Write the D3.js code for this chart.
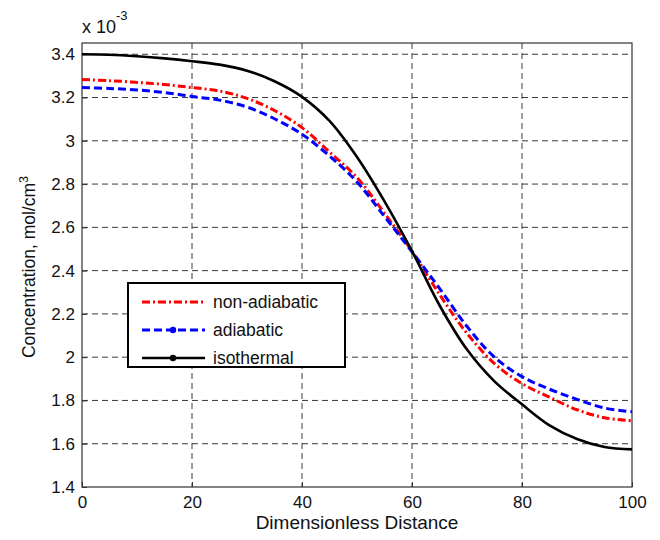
<!DOCTYPE html>
<html>
<head>
<meta charset="utf-8">
<script src="https://cdn.jsdelivr.net/npm/d3@7"></script>
<style>
  body { margin: 0; background: #fff; }
  text { font-family: "Liberation Sans", Arial, sans-serif; fill: #111; }
</style>
</head>
<body>
<div id="chart"></div>
<script>
// data (concentration in units of 1e-3 mol/cm3)
const distance = [0, 5, 10, 15, 20, 25, 30, 35, 40, 45, 50, 55, 60, 65, 70, 75, 80, 85, 90, 95, 100];
const nonAdiabatic = [3.283, 3.278, 3.270, 3.260, 3.246, 3.230, 3.196, 3.140, 3.061, 2.948, 2.830, 2.665, 2.490, 2.290, 2.110, 1.970, 1.878, 1.815, 1.757, 1.720, 1.706];
const adiabatic = [3.246, 3.242, 3.235, 3.223, 3.205, 3.188, 3.156, 3.102, 3.030, 2.930, 2.810, 2.650, 2.487, 2.318, 2.142, 2.000, 1.910, 1.852, 1.805, 1.765, 1.748];
const isothermal = [3.400, 3.398, 3.391, 3.381, 3.368, 3.352, 3.324, 3.275, 3.203, 3.092, 2.925, 2.720, 2.490, 2.240, 2.035, 1.888, 1.782, 1.685, 1.622, 1.585, 1.574];

const seriesNames = ["non-adiabatic", "adiabatic", "isothermal"];
const xTicks = [0, 20, 40, 60, 80, 100];
const yTicks = [1.4, 1.6, 1.8, 2, 2.2, 2.4, 2.6, 2.8, 3, 3.2, 3.4];

// frame
const FRAME_HEIGHT = 540;
const FRAME_WIDTH = 660;
const MARGINS = {left: 82, right: 28, top: 43, bottom: 53};

const VIS_HEIGHT = FRAME_HEIGHT - MARGINS.top - MARGINS.bottom;
const VIS_WIDTH = FRAME_WIDTH - MARGINS.left - MARGINS.right;

const FRAME = d3.select("#chart")
                .append("svg")
                  .attr("height", FRAME_HEIGHT)
                  .attr("width", FRAME_WIDTH);

const VIS = FRAME.append("g")
                 .attr("transform", "translate(" + MARGINS.left + "," + MARGINS.top + ")");

// scales
const x = d3.scaleLinear()
            .domain([0, 100])
            .range([0, VIS_WIDTH]);

const y = d3.scaleLinear()
            .domain([1.4, 3.452])
            .range([VIS_HEIGHT, 0]);

// dashed grid
VIS.append("g")
   .selectAll("line")
   .data(xTicks.filter((d) => d > 0 && d < 100))
   .enter()
   .append("line")
     .attr("x1", (d) => x(d))
     .attr("x2", (d) => x(d))
     .attr("y1", 0)
     .attr("y2", VIS_HEIGHT)
     .attr("stroke", "#3a3a3a")
     .attr("stroke-width", 1)
     .attr("stroke-dasharray", "6,4");

VIS.append("g")
   .selectAll("line")
   .data(yTicks.filter((d) => d > 1.4))
   .enter()
   .append("line")
     .attr("x1", 0)
     .attr("x2", VIS_WIDTH)
     .attr("y1", (d) => y(d))
     .attr("y2", (d) => y(d))
     .attr("stroke", "#3a3a3a")
     .attr("stroke-width", 1)
     .attr("stroke-dasharray", "6,4");

// axes
const xAxis = VIS.append("g")
   .attr("transform", "translate(0," + VIS_HEIGHT + ")")
   .call(d3.axisBottom(x).tickValues(xTicks).tickSize(-5).tickPadding(9).tickFormat(d3.format("~g")));

const yAxis = VIS.append("g")
   .call(d3.axisLeft(y).tickValues(yTicks).tickSize(-5).tickPadding(7).tickFormat(d3.format("~g")));

[xAxis, yAxis].forEach((a) => {
  a.select(".domain").remove();
  a.selectAll("line").attr("stroke", "#333");
  a.selectAll("text")
   .attr("font-size", 17)
   .attr("font-family", "Liberation Sans, Arial, sans-serif")
   .attr("fill", "#111");
});

// box
VIS.append("rect")
   .attr("x", 0)
   .attr("y", 0)
   .attr("width", VIS_WIDTH)
   .attr("height", VIS_HEIGHT)
   .attr("fill", "none")
   .attr("stroke", "#333")
   .attr("stroke-width", 1.2);

// the three curves
const series = [
  {name: seriesNames[0], values: nonAdiabatic, color: "#ff0000", dash: "8,3,2,3", width: 3, dot: false},
  {name: seriesNames[1], values: adiabatic, color: "#0000ff", dash: "8,4", width: 3, dot: true},
  {name: seriesNames[2], values: isothermal, color: "#000000", dash: null, width: 2.6, dot: true}
];

const line = d3.line()
               .x((d) => x(d[0]))
               .y((d) => y(d[1]))
               .curve(d3.curveCatmullRom.alpha(0.5));

series.forEach((s) => {
  VIS.append("path")
     .datum(distance.map((d, i) => [d, s.values[i]]))
     .attr("fill", "none")
     .attr("stroke", s.color)
     .attr("stroke-width", s.width)
     .attr("stroke-dasharray", s.dash)
     .attr("d", line);
});

// multiplier above the axis
const mult = FRAME.append("text")
   .attr("x", 82)
   .attr("y", 33)
   .attr("font-size", 18)
   .text("x 10");
mult.append("tspan")
   .attr("dy", -13)
   .attr("font-size", 13)
   .text("-3");

// axis labels
FRAME.append("text")
   .attr("x", MARGINS.left + VIS_WIDTH / 2)
   .attr("y", 529)
   .attr("text-anchor", "middle")
   .attr("font-size", 19)
   .text("Dimensionless Distance");

const yLabel = FRAME.append("text")
   .attr("transform", "translate(35," + (MARGINS.top + VIS_HEIGHT / 2 + 2) + ") rotate(-90)")
   .attr("text-anchor", "middle")
   .attr("font-size", 17.5)
   .text("Concentration, mol/cm");
yLabel.append("tspan")
   .attr("dy", -7)
   .attr("font-size", 12.5)
   .text("3");

// legend
const LEGEND = FRAME.append("g")
   .attr("transform", "translate(128,283)");

LEGEND.append("rect")
   .attr("width", 217)
   .attr("height", 84)
   .attr("fill", "#fff")
   .attr("stroke", "#000")
   .attr("stroke-width", 2);

const rows = LEGEND.selectAll("g.row")
   .data(series)
   .enter()
   .append("g")
     .attr("class", "row")
     .attr("transform", (d, i) => "translate(0," + (19 + i * 28) + ")");

rows.append("line")
   .attr("x1", 14)
   .attr("x2", 77)
   .attr("stroke", (d) => d.color)
   .attr("stroke-width", (d) => d.width)
   .attr("stroke-dasharray", (d) => d.dash);

rows.filter((d) => d.dot)
   .append("circle")
     .attr("cx", 45)
     .attr("r", 3.2)
     .attr("fill", (d) => d.color);

rows.append("text")
   .attr("x", 85)
   .attr("dy", "0.35em")
   .attr("font-size", 17.5)
   .text((d) => d.name);
</script>
</body>
</html>
